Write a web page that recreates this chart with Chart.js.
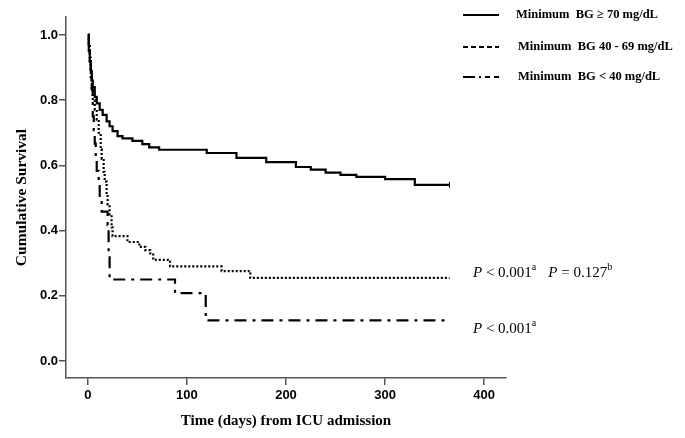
<!DOCTYPE html>
<html>
<head>
<meta charset="utf-8">
<script src="https://cdn.jsdelivr.net/npm/chart.js@4/dist/chart.umd.min.js"></script>
<style>
  html, body { margin: 0; padding: 0; background: #fff; }
  #wrap { width: 685px; height: 438px; position: relative; }
</style>
</head>
<body>
<div id="wrap"><canvas id="km"></canvas></div>
<script>
// tick values
const xTicks = [0, 100, 200, 300, 400];
const yTicks = [0, 0.2, 0.4, 0.6, 0.8, 1.0];

// Minimum BG >= 70 mg/dL
const highDays = [0, 1, 2, 3, 4, 5, 7, 9, 12, 15, 19, 22, 25, 30, 35, 45, 55, 62, 72, 120, 150, 180, 210, 225, 240, 255, 271, 300, 330, 365];
const highSurv = [1.0, 0.95, 0.92, 0.89, 0.86, 0.84, 0.81, 0.79, 0.77, 0.755, 0.735, 0.72, 0.705, 0.69, 0.683, 0.675, 0.665, 0.655, 0.648, 0.638, 0.623, 0.61, 0.595, 0.587, 0.578, 0.571, 0.565, 0.558, 0.54, 0.54];

// Minimum BG 40 - 69 mg/dL
const midDays = [0, 1, 2, 3, 4, 5, 7, 9, 11, 13, 14, 16, 17, 19, 20, 22, 24, 25, 40, 52, 58, 63, 66, 83, 135, 164, 365];
const midSurv = [1.0, 0.97, 0.93, 0.87, 0.83, 0.80, 0.77, 0.74, 0.70, 0.65, 0.62, 0.58, 0.55, 0.51, 0.48, 0.45, 0.41, 0.383, 0.365, 0.35, 0.34, 0.33, 0.31, 0.29, 0.276, 0.255, 0.255];

// Minimum BG < 40 mg/dL
const lowDays = [0, 1, 2, 3, 4, 5, 6, 7, 8, 9, 11, 12, 14, 20, 21, 22, 88, 119, 365];
const lowSurv = [1.0, 0.958, 0.917, 0.875, 0.833, 0.75, 0.708, 0.667, 0.625, 0.583, 0.542, 0.5, 0.458, 0.417, 0.333, 0.25, 0.208, 0.125, 0.125];

const legendLabels = ['Minimum  BG \u2265 70 mg/dL', 'Minimum  BG 40 - 69 mg/dL', 'Minimum  BG < 40 mg/dL'];

function toPoints(days, surv) {
  return days.map((d, i) => ({ x: d, y: surv[i] }));
}

// legend + p values drawn on top
const extras = {
  id: 'extras',
  afterDraw(chart) {
    const c = chart.ctx;
    c.save();
    c.strokeStyle = '#000';
    c.fillStyle = '#000';
    c.lineWidth = 2;
    const rows = [15, 47, 77];
    const dashes = [[], [5, 3], [12, 4, 2, 4, 5, 4]];
    rows.forEach((y, i) => {
      c.setLineDash(dashes[i]);
      c.beginPath();
      c.moveTo(463, y);
      c.lineTo(499, y);
      c.stroke();
      c.setLineDash([]);
      c.font = 'bold 12.5px "Liberation Serif"';
      c.textBaseline = 'middle';
      c.fillText(legendLabels[i], i == 0 ? 516 : 518, y);
    });

    // p values
    function pText(x, y, op, val, sup) {
      c.textBaseline = 'alphabetic';
      c.font = 'italic 15px "Liberation Serif"';
      c.fillText('P', x, y);
      x += c.measureText('P ').width;
      c.font = '15px "Liberation Serif"';
      const s = op + ' ' + val;
      c.fillText(s, x, y);
      x += c.measureText(s).width;
      c.font = '10px "Liberation Serif"';
      c.fillText(sup, x, y - 7);
      return x + c.measureText(sup).width;
    }
    let nx = pText(473, 277, '<', '0.001', 'a');
    pText(nx + 12, 277, '=', '0.127', 'b');
    pText(473, 333, '<', '0.001', 'a');
    c.restore();
  }
};

new Chart(document.getElementById('km'), {
  type: 'line',
  data: {
    datasets: [
      {
        label: legendLabels[0],
        data: toPoints(highDays, highSurv),
        borderColor: '#000',
        borderWidth: 2.2,
        stepped: true,
        // censor tick on the last observation
        pointRadius: (ctx) => ctx.dataIndex === highDays.length - 1 ? 3 : 0,
        pointStyle: 'line',
        rotation: 90,
        pointBorderWidth: 1,
        pointBorderColor: '#000'
      },
      {
        label: legendLabels[1],
        data: toPoints(midDays, midSurv),
        borderColor: '#000',
        borderWidth: 2.2,
        borderDash: [2, 2],
        stepped: true,
        pointRadius: 0
      },
      {
        label: legendLabels[2],
        data: toPoints(lowDays, lowSurv),
        borderColor: '#000',
        borderWidth: 2.2,
        borderDash: [12, 6, 3, 6],
        stepped: true,
        pointRadius: 0
      }
    ]
  },
  options: {
    responsive: true,
    maintainAspectRatio: false,
    animation: false,
    layout: { padding: { left: 0, top: 17, right: 179, bottom: 0 } },
    plugins: { legend: { display: false }, tooltip: { enabled: false } },
    scales: {
      x: {
        type: 'linear',
        min: -22,
        max: 422,
        afterBuildTicks: (s) => { s.ticks = xTicks.map(v => ({ value: v })); },
        afterFit: (s) => { s.height = 60; },
        border: { display: true, color: '#555', width: 1.5 },
        grid: { drawOnChartArea: false, drawTicks: true, tickLength: 7, color: '#555', lineWidth: 1.5 },
        ticks: { color: '#000', padding: 3, font: { family: 'Liberation Sans', weight: 'bold', size: 13 } },
        title: {
          display: true,
          text: 'Time (days) from ICU admission',
          color: '#000',
          padding: { top: 8, bottom: 8 },
          font: { family: 'Liberation Serif', weight: 'bold', size: 15 }
        }
      },
      y: {
        min: -0.052,
        max: 1.055,
        afterBuildTicks: (s) => { s.ticks = yTicks.map(v => ({ value: v })); },
        afterFit: (s) => { s.width = 66; },
        border: { display: true, color: '#555', width: 1.5 },
        grid: { drawOnChartArea: false, drawTicks: true, tickLength: 7, color: '#555', lineWidth: 1.5 },
        ticks: {
          color: '#000',
          padding: 1,
          font: { family: 'Liberation Sans', weight: 'bold', size: 13 },
          callback: (v) => v.toFixed(1)
        },
        title: {
          display: true,
          text: 'Cumulative Survival',
          color: '#000',
          padding: { top: 13, bottom: 13 },
          font: { family: 'Liberation Serif', weight: 'bold', size: 15.5 }
        }
      }
    }
  },
  plugins: [extras]
});
</script>
</body>
</html>
